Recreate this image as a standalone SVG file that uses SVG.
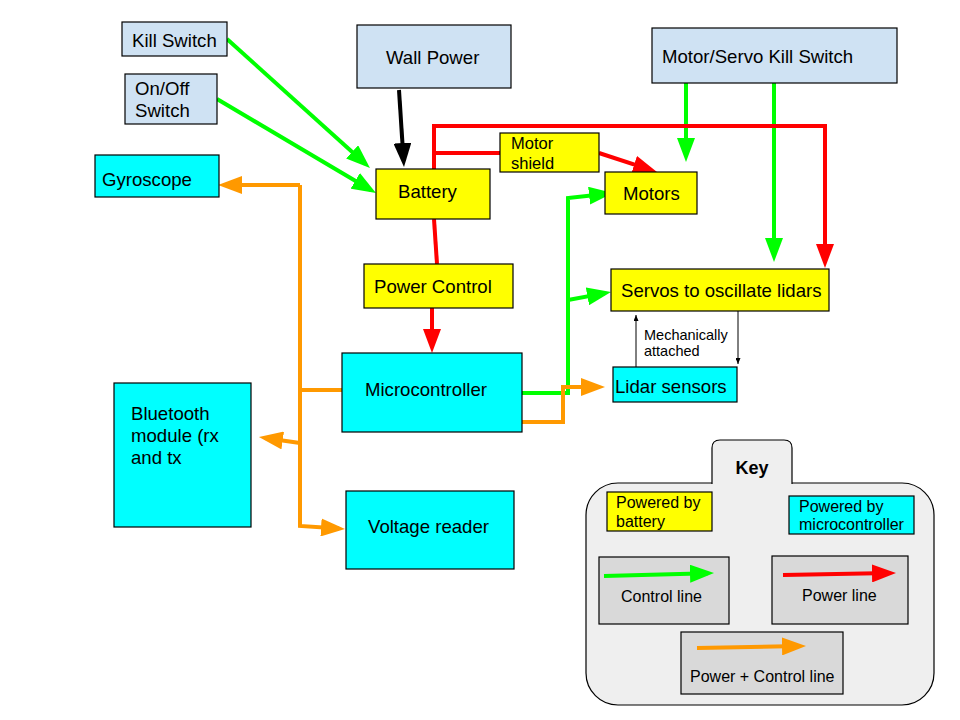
<svg xmlns="http://www.w3.org/2000/svg" width="960" height="720" viewBox="0 0 960 720">
<defs>
<style>
text{font-family:"Liberation Sans",Arial,sans-serif;fill:#000}
.t{font-size:18.6px}
.s{font-size:16px}
.m{font-size:14.5px}
.box{stroke:#000;stroke-width:1.2}
.lb{fill:#cfe2f3}
.cy{fill:#00ffff}
.ye{fill:#ffff00}
.gr{fill:#d9d9d9}
.g{stroke:#00ff00;stroke-width:4;fill:none}
.r{stroke:#ff0000;stroke-width:4;fill:none}
.o{stroke:#ff9900;stroke-width:4;fill:none}
.k{stroke:#000;stroke-width:4;fill:none}
.thin{stroke:#000;stroke-width:1;fill:none}
</style>
<marker id="ag" viewBox="0 0 24 18" refX="18" refY="9" markerWidth="24" markerHeight="18" markerUnits="userSpaceOnUse" orient="auto"><path d="M0,0L24,9L0,18z" fill="#00ff00"/></marker>
<marker id="ar" viewBox="0 0 24 18" refX="18" refY="9" markerWidth="24" markerHeight="18" markerUnits="userSpaceOnUse" orient="auto"><path d="M0,0L24,9L0,18z" fill="#ff0000"/></marker>
<marker id="ao" viewBox="0 0 24 18" refX="18" refY="9" markerWidth="24" markerHeight="18" markerUnits="userSpaceOnUse" orient="auto"><path d="M0,0L24,9L0,18z" fill="#ff9900"/></marker>
<marker id="ak" viewBox="0 0 24 18" refX="18" refY="9" markerWidth="24" markerHeight="18" markerUnits="userSpaceOnUse" orient="auto"><path d="M0,0L24,9L0,18z" fill="#000"/></marker>
<marker id="at" viewBox="0 0 6 5" refX="6" refY="2.5" markerWidth="6" markerHeight="5" markerUnits="userSpaceOnUse" orient="auto"><path d="M0,0L6,2.5L0,5z" fill="#000"/></marker>
</defs>
<rect width="960" height="720" fill="#fff"/>

<g id="connectors">
<path class="g" d="M227,39L365.5,164" marker-end="url(#ag)"/>
<path class="g" d="M217,99L370.8,190" marker-end="url(#ag)"/>
<path class="k" d="M399,90L403.6,161" marker-end="url(#ak)"/>
<path class="g" d="M686,83V156" marker-end="url(#ag)"/>
<path class="g" d="M774,83V256" marker-end="url(#ag)"/>
<path class="r" d="M434,169V126H825V262" marker-end="url(#ar)"/>
<path class="r" d="M434,153H500"/>
<path class="r" d="M599,153L651.3,170.1" marker-end="url(#ar)"/>
<path class="r" d="M434,219L437,264"/>
<path class="r" d="M432,308V347" marker-end="url(#ar)"/>
<path class="g" d="M522,393H568V198L607,193.7" marker-end="url(#ag)"/>
<path class="g" d="M568,300L605.1,293.1" marker-end="url(#ag)"/>
<path class="o" d="M522,422H563V387H599" marker-end="url(#ao)"/>
<path class="o" d="M300,185H224" marker-end="url(#ao)"/>
<path class="o" d="M300,185V526L339,528.6" marker-end="url(#ao)"/>
<path class="o" d="M300,390H355"/>
<path class="o" d="M300,443L264.9,437.9" marker-end="url(#ao)"/>
<path class="thin" d="M636,367V315" marker-end="url(#at)"/>
<path class="thin" d="M738,311V364" marker-end="url(#at)"/>
</g>

<g id="kill-switch"><rect class="box lb" x="122" y="22" width="105" height="34"/><text class="t" x="132" y="47">Kill Switch</text></g>
<g id="on-off-switch"><rect class="box lb" x="125" y="74" width="92" height="50"/><text class="t" x="135" y="95">On/Off</text><text class="t" x="135" y="117">Switch</text></g>
<g id="wall-power"><rect class="box lb" x="357" y="25" width="154" height="63"/><text class="t" x="386" y="64">Wall Power</text></g>
<g id="motor-servo-kill-switch"><rect class="box lb" x="652" y="28" width="245" height="55"/><text class="t" x="662" y="63">Motor/Servo Kill Switch</text></g>
<g id="gyroscope"><rect class="box cy" x="95" y="155" width="124" height="42"/><text class="t" x="102" y="186">Gyroscope</text></g>
<g id="battery"><rect class="box ye" x="376" y="169" width="114" height="50"/><text class="t" x="398" y="198">Battery</text></g>
<g id="motor-shield"><rect class="box ye" x="500" y="133" width="99" height="39"/><text style="font-size:16.5px" x="511" y="149">Motor</text><text style="font-size:16.5px" x="511" y="169">shield</text></g>
<g id="motors"><rect class="box ye" x="605" y="172" width="92" height="42"/><text class="t" x="623" y="200">Motors</text></g>
<g id="servos"><rect class="box ye" x="611" y="269" width="218" height="42"/><text class="t" x="621" y="297">Servos to oscillate lidars</text></g>
<g id="power-control"><rect class="box ye" x="364" y="264" width="149" height="44"/><text class="t" x="374" y="293">Power Control</text></g>
<g id="microcontroller"><rect class="box cy" x="342" y="353" width="180" height="79"/><text class="t" x="365" y="396">Microcontroller</text></g>
<g id="lidar-sensors"><rect class="box cy" x="613" y="367" width="124" height="35"/><text class="t" x="615" y="393">Lidar sensors</text></g>
<g id="mech-label"><text class="m" x="644" y="340">Mechanically</text><text class="m" x="644" y="356">attached</text></g>
<g id="bluetooth"><rect class="box cy" x="114" y="383" width="137" height="144"/><text class="t" x="131" y="420">Bluetooth</text><text class="t" x="131" y="442">module (rx</text><text class="t" x="131" y="464">and tx</text></g>
<g id="voltage-reader"><rect class="box cy" x="346" y="491" width="168" height="78"/><text class="t" x="368" y="533">Voltage reader</text></g>

<g id="key">
<rect x="586" y="483" width="348" height="222" rx="32" fill="#efefef" stroke="#000" stroke-width="1.2"/>
<path d="M712,484V448Q712,440 720,440H784Q792,440 792,448V484" fill="#efefef" stroke="#000" stroke-width="1.2"/>
<text x="752" y="474" text-anchor="middle" style="font-size:18px;font-weight:bold">Key</text>
<rect class="box ye" x="607" y="492" width="105" height="39"/><text class="s" x="616" y="508">Powered by</text><text class="s" x="616" y="527">battery</text>
<rect class="box cy" x="789" y="496" width="125" height="38"/><text class="s" x="799" y="512">Powered by</text><text class="s" x="799" y="530">microcontroller</text>
<rect class="box gr" x="599" y="557" width="130" height="67"/>
<path class="g" d="M604,576L708,573.2" marker-end="url(#ag)"/>
<text class="s" x="621" y="602">Control line</text>
<rect class="box gr" x="772" y="556" width="136" height="68"/>
<path class="r" d="M783,575L890,573.1" marker-end="url(#ar)"/>
<text class="s" x="802" y="601">Power line</text>
<rect class="box gr" x="681" y="632" width="162" height="62"/>
<path class="o" d="M697,648L800,646.1" marker-end="url(#ao)"/>
<text class="s" x="690" y="682">Power + Control line</text>
</g>
</svg>
